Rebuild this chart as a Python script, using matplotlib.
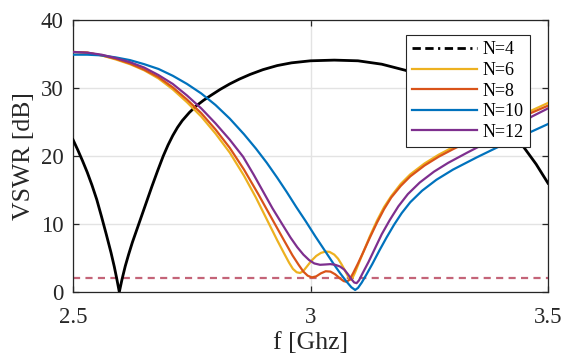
import matplotlib
matplotlib.use("Agg")
import matplotlib.pyplot as plt
from matplotlib.lines import Line2D

plt.rcParams['font.family'] = ['Liberation Serif', 'DejaVu Serif']

# ---- data ----
f_n4 = [2.500, 2.510, 2.520, 2.530, 2.540, 2.550, 2.560, 2.570, 2.580, 2.587, 2.592, 2.5975,
        2.603, 2.610, 2.617, 2.625, 2.633, 2.641, 2.655, 2.666, 2.678, 2.690, 2.700, 2.710,
        2.720, 2.730, 2.745, 2.760, 2.775, 2.790, 2.810, 2.830, 2.850, 2.873, 2.900, 2.930,
        2.960, 3.000, 3.050, 3.100, 3.150, 3.200, 3.250, 3.300, 3.350, 3.400, 3.430, 3.450,
        3.475, 3.500]
y_n4 = [22.4, 20.9, 19.3, 17.6, 15.7, 13.6, 11.1, 8.5, 5.8, 3.7, 2.0, 0.0,
        1.8, 3.8, 5.5, 7.3, 8.9, 10.5, 13.3, 15.5, 17.8, 20.0, 21.6, 23.0,
        24.2, 25.2, 26.4, 27.4, 28.2, 28.9, 29.8, 30.6, 31.3, 32.0, 32.7, 33.3,
        33.7, 34.0, 34.1, 34.0, 33.5, 32.6, 31.3, 29.6, 27.5, 24.9, 22.9, 21.2,
        18.8, 16.0]

f_n6 = [2.50, 2.53, 2.56, 2.59, 2.62, 2.65, 2.68, 2.71, 2.74, 2.77, 2.80, 2.83,
        2.86, 2.885, 2.91, 2.93, 2.945, 2.955, 2.963, 2.971, 2.978, 2.985, 2.993, 3.002,
        3.012, 3.022, 3.032, 3.040, 3.050, 3.058, 3.066, 3.073, 3.079, 3.084, 3.088, 3.094,
        3.102, 3.112, 3.125, 3.140, 3.155, 3.170, 3.190, 3.210, 3.240, 3.270, 3.300, 3.350,
        3.400, 3.450, 3.500]
y_n6 = [35.3, 35.2, 34.8, 34.2, 33.5, 32.6, 31.4, 29.8, 27.9, 25.8, 23.3, 20.5,
        17.1, 13.9, 10.4, 7.6, 5.6, 4.3, 3.4, 2.9, 2.8, 3.1, 3.8, 4.6,
        5.3, 5.75, 5.95, 5.9, 5.5, 4.9, 4.0, 3.1, 2.3, 1.8, 2.0, 2.9,
        4.3, 6.0, 8.2, 10.5, 12.5, 14.1, 15.9, 17.3, 18.9, 20.2, 21.3, 23.0,
        24.6, 26.2, 27.8]

f_n8 = [2.50, 2.53, 2.56, 2.59, 2.62, 2.65, 2.68, 2.71, 2.74, 2.77, 2.80, 2.83,
        2.86, 2.89, 2.925, 2.945, 2.962, 2.975, 2.985, 2.994, 3.003, 3.012, 3.022, 3.032,
        3.042, 3.052, 3.062, 3.070, 3.076, 3.082, 3.090, 3.100, 3.112, 3.125, 3.140, 3.155,
        3.170, 3.190, 3.210, 3.240, 3.270, 3.300, 3.350, 3.400, 3.450, 3.500]
y_n8 = [35.3, 35.2, 34.8, 34.3, 33.6, 32.7, 31.6, 30.1, 28.3, 26.3, 23.9, 21.2,
        18.0, 14.4, 10.0, 7.5, 5.4, 4.0, 3.0, 2.4, 2.15, 2.3, 2.75, 3.05,
        3.0, 2.6, 2.0, 1.6, 1.5, 1.8, 2.8, 4.2, 6.0, 8.0, 10.2, 12.2,
        13.9, 15.6, 17.0, 18.6, 19.9, 21.0, 22.7, 24.3, 25.9, 27.4]

f_n10 = [2.50, 2.53, 2.56, 2.59, 2.62, 2.65, 2.68, 2.71, 2.74, 2.77, 2.80, 2.83,
         2.86, 2.885, 2.908, 2.93, 2.95, 2.97, 2.99, 3.01, 3.03, 3.048, 3.062, 3.075,
         3.086, 3.094, 3.100, 3.108, 3.118, 3.130, 3.145, 3.160, 3.176, 3.192, 3.210, 3.235,
         3.265, 3.300, 3.350, 3.400, 3.450, 3.500]
y_n10 = [34.9, 34.9, 34.8, 34.5, 34.1, 33.5, 32.8, 31.8, 30.6, 29.2, 27.5, 25.5,
         23.2, 21.1, 19.0, 16.8, 14.7, 12.5, 10.4, 8.2, 6.1, 4.2, 2.8, 1.6,
         0.7, 0.3, 0.6, 1.4, 2.6, 4.1, 6.1, 8.0, 9.9, 11.6, 13.2, 14.9,
         16.5, 18.0, 19.8, 21.5, 23.1, 24.7]

f_n12 = [2.50, 2.53, 2.56, 2.59, 2.62, 2.65, 2.68, 2.71, 2.74, 2.77, 2.80, 2.83,
         2.858, 2.88, 2.90, 2.92, 2.942, 2.958, 2.972, 2.985, 2.997, 3.008, 3.020, 3.032,
         3.042, 3.052, 3.062, 3.071, 3.079, 3.086, 3.092, 3.097, 3.102, 3.110, 3.122, 3.135,
         3.150, 3.167, 3.185, 3.205, 3.230, 3.260, 3.290, 3.330, 3.380, 3.430, 3.466, 3.500]
y_n12 = [35.3, 35.2, 34.9, 34.4, 33.8, 33.0, 31.9, 30.6, 28.9, 27.0, 24.8, 22.4,
         19.9, 17.3, 14.8, 12.3, 9.8, 8.0, 6.6, 5.5, 4.7, 4.2, 4.0, 4.05,
         4.1, 4.0, 3.75, 3.3, 2.6, 1.9, 1.4, 1.3, 1.7, 2.8, 4.4, 6.3,
         8.5, 10.6, 12.6, 14.4, 16.1, 17.7, 19.0, 20.5, 22.3, 24.2, 25.8, 27.0]

threshold_db = 2.0

labels = ['N=4', 'N=6', 'N=8', 'N=10', 'N=12']
colors = ['black', '#EDB120', '#D95319', '#0072BD', '#7E2F8E']

xticks = [2.5, 3.0, 3.5]
xticklabels = ['2.5', '3', '3.5']
yticks = [0, 10, 20, 30, 40]

# ---- figure ----
fig = plt.figure(figsize=(5.65, 3.6), dpi=100)
ax = fig.add_axes([73/565, 1-292/360, 475/565, 272/360])

axcol = '#262626'
ax.grid(True, color='#E3E3E3', linewidth=1.0, zorder=0)
ax.set_axisbelow(True)

ax.plot(f_n4, y_n4, color=colors[0], lw=2.0, zorder=3, solid_joinstyle='round')
series = [(f_n6, y_n6), (f_n8, y_n8), (f_n10, y_n10), (f_n12, y_n12)]
for (fx, yy), c in zip(series, colors[1:]):
    ax.plot(fx, yy, color=c, lw=1.6, zorder=3, solid_joinstyle='round')

ax.axhline(threshold_db, color='#C46478', lw=1.6, linestyle=(0, (3.2, 2.4)), zorder=2)

ax.set_xlim(2.5, 3.5)
ax.set_ylim(0, 40)
ax.set_xticks(xticks)
ax.set_xticklabels(xticklabels)
ax.set_yticks(yticks)

for s in ax.spines.values():
    s.set_color(axcol)
    s.set_linewidth(0.9)
ax.tick_params(direction='in', length=4, width=0.9, colors=axcol,
               top=True, right=True, labelsize=16.5)
ax.tick_params(axis='x', pad=11)
ax.tick_params(axis='y', pad=7)

ax.set_xlabel('f [Ghz]', fontsize=18.5, color=axcol, labelpad=3)
ax.set_ylabel('VSWR [dB]', fontsize=18.5, color=axcol, labelpad=4)

handles = [Line2D([], [], color='black', lw=2.0, linestyle=(0, (3.0, 1.6, 3.0, 1.6, 0.8, 1.6)))]
for c in colors[1:]:
    handles.append(Line2D([], [], color=c, lw=1.6))
leg = ax.legend(handles, labels, loc='upper right', bbox_to_anchor=(0.962, 0.945),
                fontsize=13, frameon=True, fancybox=False, framealpha=1.0,
                edgecolor=axcol, handlelength=3.6, handletextpad=0.3,
                labelspacing=0.2, borderpad=0.35, borderaxespad=0.0)
leg.get_frame().set_linewidth(0.8)
leg.set_zorder(5)

fig.savefig('out.png', dpi=100)
